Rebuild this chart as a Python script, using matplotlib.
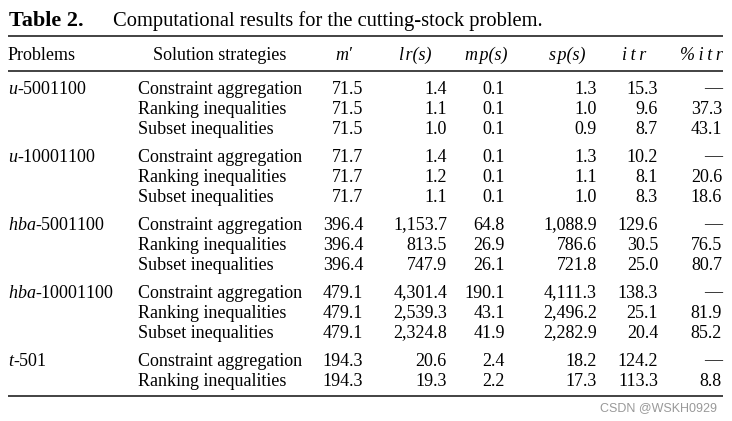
import matplotlib
matplotlib.use("Agg")
import matplotlib.pyplot as plt

plt.rcParams['font.family'] = ['Liberation Serif', 'DejaVu Serif']
plt.rcParams['mathtext.fontset'] = 'custom'
plt.rcParams['mathtext.rm'] = 'Liberation Serif'
plt.rcParams['mathtext.it'] = 'Liberation Serif:italic'

# table data
problems = ["$u$-5001100", "$u$-10001100", "$hba$-5001100", "$hba$-10001100", "$t$-501"]
strategies = [
    ["Constraint aggregation", "Ranking inequalities", "Subset inequalities"],
    ["Constraint aggregation", "Ranking inequalities", "Subset inequalities"],
    ["Constraint aggregation", "Ranking inequalities", "Subset inequalities"],
    ["Constraint aggregation", "Ranking inequalities", "Subset inequalities"],
    ["Constraint aggregation", "Ranking inequalities"],
]
m_prime = [[71.5, 71.5, 71.5], [71.7, 71.7, 71.7], [396.4, 396.4, 396.4],
           [479.1, 479.1, 479.1], [194.3, 194.3]]
lr_s = [[1.4, 1.1, 1.0], [1.4, 1.2, 1.1], [1153.7, 813.5, 747.9],
        [4301.4, 2539.3, 2324.8], [20.6, 19.3]]
mp_s = [[0.1, 0.1, 0.1], [0.1, 0.1, 0.1], [64.8, 26.9, 26.1],
        [190.1, 43.1, 41.9], [2.4, 2.2]]
sp_s = [[1.3, 1.0, 0.9], [1.3, 1.1, 1.0], [1088.9, 786.6, 721.8],
        [4111.3, 2496.2, 2282.9], [18.2, 17.3]]
itr = [[15.3, 9.6, 8.7], [10.2, 8.1, 8.3], [129.6, 30.5, 25.0],
       [138.3, 25.1, 20.4], [124.2, 113.3]]
pct_itr = [[None, 37.3, 43.1], [None, 20.6, 18.6], [None, 76.5, 80.7],
           [None, 81.9, 85.2], [None, 8.8]]

headers = ["Problems", "Solution strategies", "m\u2032", "l\u200ar(s)", "m\u200ap(s)",
           "s\u200ap(s)", "i\u2009t\u2009r", "%\u2009i\u2009t\u2009r"]

W, H = 732, 421
fig = plt.figure(figsize=(W / 100, H / 100), dpi=100)
ax = fig.add_axes([0, 0, 1, 1])
ax.set_xlim(0, W)
ax.set_ylim(H, 0)
ax.axis('off')

fs = 13
ink = '#000000'

# title
ax.text(9, 26, "Table 2.", fontsize=16, fontweight='bold', color=ink, va='baseline')
ax.text(113, 26, "Computational results for the cutting-stock problem.",
        fontsize=14.8, color=ink, va='baseline')

# rules
x0, x1 = 8, 723
for y in (36, 70.5, 396):
    ax.plot([x0, x1], [y, y], color='#222222', lw=1.2, solid_capstyle='butt')

# header row
hy = 60
ax.text(8, hy, headers[0], fontsize=fs, color=ink, va='baseline')
ax.text(220, hy, headers[1], fontsize=fs, color=ink, va='baseline', ha='center')
head_x = [344, 415, 486, 567, 634]
for hx, h in zip(head_x, headers[2:7]):
    ax.text(hx, hy, h, fontsize=fs, color=ink, va='baseline', ha='center',
            style='italic')
ax.text(723, hy, headers[7], fontsize=fs, color=ink, va='baseline', ha='right',
        style='italic')

# body
col_right = [363, 447, 505, 597, 658, 722]
y = 93.5
for g, prob in enumerate(problems):
    ax.text(8, y, prob, fontsize=fs, color=ink, va='baseline')
    for r, strat in enumerate(strategies[g]):
        ax.text(138, y, strat, fontsize=fs, color=ink, va='baseline')
        vals = [m_prime[g][r], lr_s[g][r], mp_s[g][r], sp_s[g][r], itr[g][r],
                pct_itr[g][r]]
        for cx, v in zip(col_right, vals):
            s = "\u2014" if v is None else f"{v:,.1f}"
            ax.text(cx, y, s, fontsize=fs, color=ink, va='baseline', ha='right')
        y += 20
    y += 8

# watermark
ax.text(717, 411, "CSDN @WSKH0929", fontsize=9, color='#999999', va='baseline',
        ha='right', family='Liberation Sans')

fig.savefig("out.png", dpi=100)
